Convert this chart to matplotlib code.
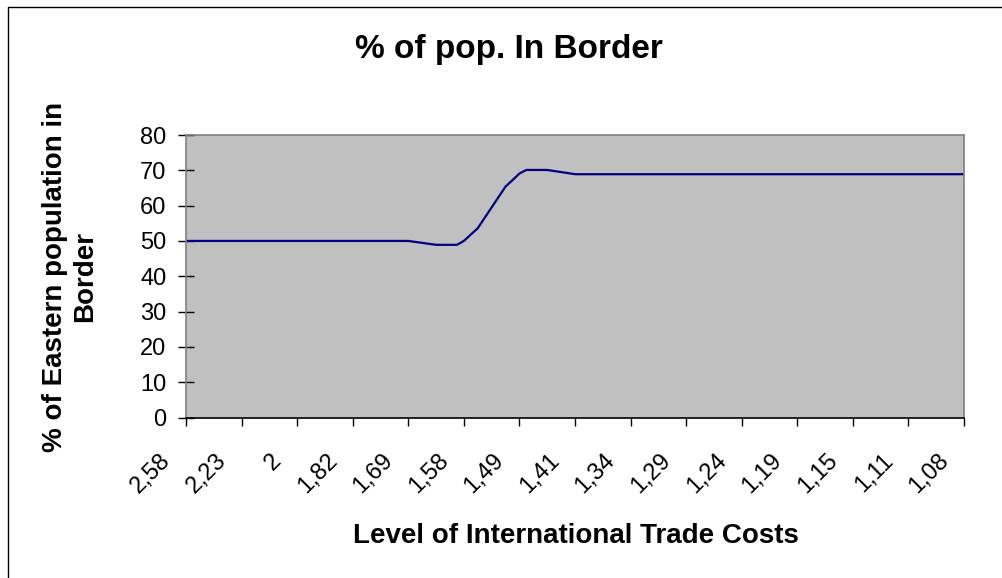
import matplotlib.pyplot as plt
from matplotlib.lines import Line2D
from matplotlib.transforms import ScaledTranslation

# category axis: one tick label every 8 trade-cost levels (113 levels in total)
cost_labels = ['2,58', '2,23', '2', '1,82', '1,69', '1,58', '1,49', '1,41',
               '1,34', '1,29', '1,24', '1,19', '1,15', '1,11', '1,08']
levels_per_label = 8

# share of eastern population in border region, read at the kinks of the line
level_idx = [0, 32, 36, 39, 40, 41, 42, 46, 47, 48, 49, 52, 56, 112]
pop_share = [50.0, 50.0, 48.9, 48.9, 50.0, 51.8, 53.6, 65.4, 67.2, 69.1, 70.1, 70.1, 68.9, 68.9]

plt.rcParams['font.family'] = ['Liberation Sans', 'DejaVu Sans']

W, H = 1003, 578
fig = plt.figure(figsize=(W / 100, H / 100), dpi=100)
ax = fig.add_axes([186 / W, 1 - 417.5 / H, 778 / W, (417.5 - 135) / H])
ax.set_facecolor('#c0c0c0')

ax.plot(level_idx, pop_share, color='#000080', linewidth=1.6)

n_levels = (len(cost_labels) - 1) * levels_per_label
ax.set_xlim(0, n_levels)
ax.set_ylim(0, 80)
ax.set_yticks(range(0, 81, 10))
ax.set_xticks(range(0, n_levels + 1, levels_per_label))
ax.set_xticklabels(cost_labels, rotation=45, ha='right')

ax.tick_params(axis='y', direction='inout', length=12, width=1, labelsize=17, pad=8)
ax.tick_params(axis='x', direction='out', length=6, width=1, labelsize=17, pad=17)

# excel puts the rotated labels a bit left of their tick
shift = ScaledTranslation(-11 / 100, 0, fig.dpi_scale_trans)
for lbl in ax.get_xticklabels():
    lbl.set_transform(lbl.get_transform() + shift)

for side in ['left', 'top', 'right']:
    ax.spines[side].set_color('#808080')
    ax.spines[side].set_linewidth(1.2)
ax.spines['bottom'].set_color('black')
ax.spines['bottom'].set_linewidth(1.2)

# titles
fig.text(509 / W, 1 - 58 / H, '% of pop. In Border', ha='center', va='baseline',
         fontsize=24, fontweight='bold')
fig.text(576 / W, 1 - 543 / H, 'Level of International Trade Costs', ha='center',
         va='baseline', fontsize=20, fontweight='bold')
fig.text(70 / W, 1 - 277 / H, '% of Eastern population in\nBorder', ha='center',
         va='center', rotation=90, fontsize=20, fontweight='bold',
         multialignment='center')

# chart area border (only left and top edges fall inside the picture)
fig.add_artist(Line2D([8.5 / W, 8.5 / W, 1.01], [-0.01, 1 - 6.5 / H, 1 - 6.5 / H],
                      transform=fig.transFigure, color='black', linewidth=1))

fig.savefig('out.png', dpi=100)
